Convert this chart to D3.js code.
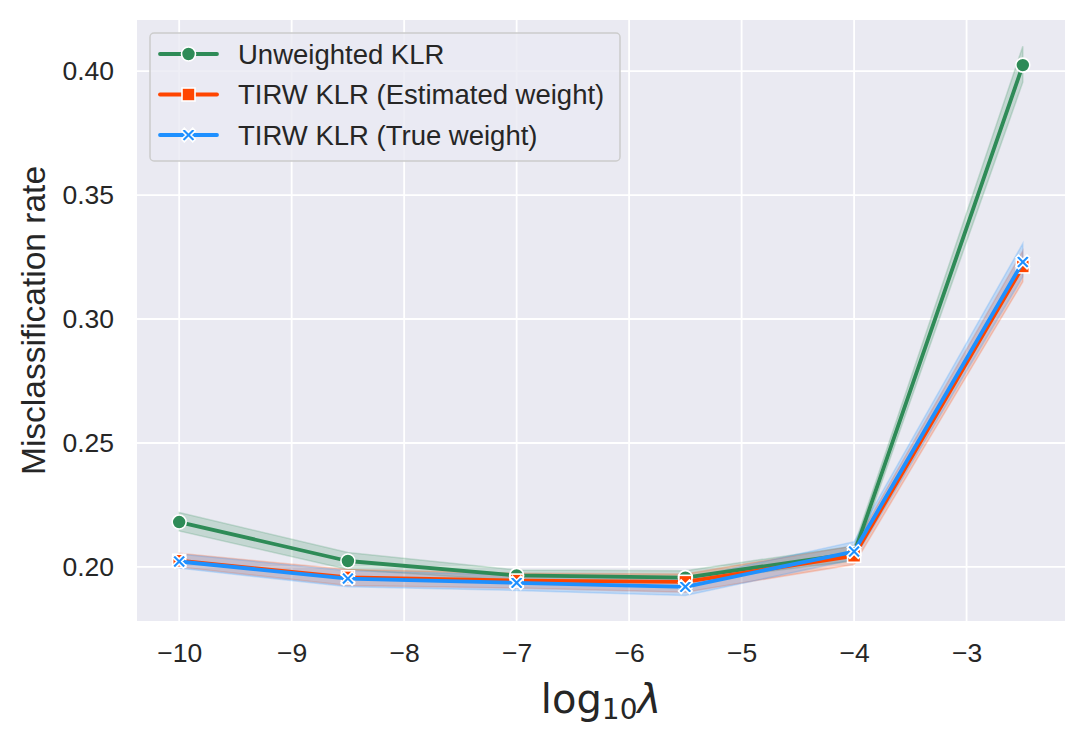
<!DOCTYPE html>
<html><head><meta charset="utf-8">
<script src="https://cdn.jsdelivr.net/npm/d3@7"></script>
<style>body{margin:0;background:#fff;} svg{display:block;}</style>
</head><body>
<svg id="c" width="1085" height="744"></svg>
<script>
const xs = [-10, -8.5, -7, -5.5, -4, -2.5];
const xTicks = [-10, -9, -8, -7, -6, -5, -4, -3];
const yTicks = [0.20, 0.25, 0.30, 0.35, 0.40];
const seriesNames = ["Unweighted KLR", "TIRW KLR (Estimated weight)", "TIRW KLR (True weight)"];
const colors = ["#2E8B57", "#FF4500", "#1E90FF"];
const unweighted = [0.2181, 0.2024, 0.1966, 0.1957, 0.2055, 0.4024];
const estimated = [0.2025, 0.1958, 0.1945, 0.1940, 0.2045, 0.3212];
const trueW = [0.2022, 0.1953, 0.1936, 0.1920, 0.2062, 0.3230];
const unweightedLo = [0.2145, 0.1990, 0.1945, 0.1940, 0.2025, 0.3955];
const unweightedHi = [0.2220, 0.2058, 0.1988, 0.1985, 0.2085, 0.4100];
const estimatedLo = [0.2000, 0.1925, 0.1915, 0.1898, 0.2010, 0.3150];
const estimatedHi = [0.2055, 0.1990, 0.1975, 0.1972, 0.2085, 0.3275];
const trueLo = [0.1995, 0.1920, 0.1905, 0.1885, 0.2030, 0.3170];
const trueHi = [0.2052, 0.1985, 0.1968, 0.1952, 0.2102, 0.3305];

const vals = [unweighted, estimated, trueW];
const los = [unweightedLo, estimatedLo, trueLo];
const his = [unweightedHi, estimatedHi, trueHi];

const L = 137, R = 1065, T = 20, B = 621;
const FONT = "Liberation Sans, Arial, sans-serif";
const svg = d3.select("#c");
const x = d3.scaleLinear().domain([-10.375, -2.125]).range([L, R]);
const y = d3.scaleLinear().domain([0.1782, 0.4206]).range([B, T]);

svg.append("rect").attr("x", L).attr("y", T).attr("width", R - L).attr("height", B - T).attr("fill", "#EAEAF2");

const gx = svg.append("g").attr("transform", `translate(0,${B})`)
  .call(d3.axisBottom(x).tickValues(xTicks).tickFormat(d => String(d).replace("-", "\u2212")).tickSize(0).tickPadding(32));
const gy = svg.append("g").attr("transform", `translate(${L},0)`)
  .call(d3.axisLeft(y).tickValues(yTicks).tickFormat(d3.format(".2f")).tickSize(0).tickPadding(23));
[gx, gy].forEach(g => {
  g.select(".domain").remove();
  g.selectAll("text").attr("font-family", FONT).attr("font-size", 26.5).attr("fill", "#262626");
});
gx.selectAll("text").attr("dy", "0.35em");

const grid = svg.append("g");
grid.selectAll(".gx").data(xTicks).join("line").attr("x1", d => x(d)).attr("x2", d => x(d)).attr("y1", T).attr("y2", B).attr("stroke", "#fff").attr("stroke-width", 1.8);
grid.selectAll(".gy").data(yTicks).join("line").attr("y1", d => y(d)).attr("y2", d => y(d)).attr("x1", L).attr("x2", R).attr("stroke", "#fff").attr("stroke-width", 1.8);

// bands
const area = d3.area().x((d, i) => x(xs[i])).y0(d => y(d[0])).y1(d => y(d[1]));
vals.forEach((v, s) => {
  const pts = xs.map((_, i) => [los[s][i], his[s][i]]);
  svg.append("path").attr("d", area(pts)).attr("fill", colors[s]).attr("fill-opacity", 0.2).attr("stroke", colors[s]).attr("stroke-opacity", 0.2).attr("stroke-width", 1.5);
});

const line = d3.line().x((d, i) => x(xs[i])).y(d => y(d));
function marker(g, s, cx, cy) {
  if (s === 0) {
    g.append("circle").attr("cx", cx).attr("cy", cy).attr("r", 7).attr("fill", colors[0]).attr("stroke", "#fff").attr("stroke-width", 1.6);
  } else if (s === 1) {
    g.append("rect").attr("x", cx - 6.5).attr("y", cy - 6.5).attr("width", 13).attr("height", 13).attr("fill", colors[1]).attr("stroke", "#fff").attr("stroke-width", 1.6);
  } else {
    const a = 6.8, w = 2.6;
    const p = `M${-a},${-a + w} L${-a + w},${-a} L0,${-w} L${a - w},${-a} L${a},${-a + w} L${w},0 L${a},${a - w} L${a - w},${a} L0,${w} L${-a + w},${a} L${-a},${a - w} L${-w},0 Z`;
    g.append("path").attr("d", p).attr("transform", `translate(${cx},${cy})`).attr("fill", colors[2]).attr("stroke", "#fff").attr("stroke-width", 1.6).attr("stroke-linejoin", "miter");
  }
}
vals.forEach((v, s) => {
  const g = svg.append("g");
  g.append("path").attr("d", line(v)).attr("fill", "none").attr("stroke", colors[s]).attr("stroke-width", 3.8).attr("stroke-linejoin", "round").attr("stroke-linecap", "round");
  v.forEach((d, i) => marker(g, s, x(xs[i]), y(d)));
});

// axis labels
svg.append("text").attr("transform", `translate(45,${(T + B) / 2}) rotate(-90)`).attr("text-anchor", "middle")
  .attr("font-family", FONT).attr("font-size", 33.5).attr("fill", "#262626").text("Misclassification rate");
const xl = svg.append("text").attr("x", (L + R) / 2).attr("y", 713).attr("text-anchor", "middle")
  .attr("font-family", "DejaVu Sans, sans-serif").attr("font-size", 40).attr("fill", "#262626");
xl.append("tspan").text("log");
xl.append("tspan").attr("font-size", 28).attr("dy", 6).text("10");
xl.append("tspan").attr("dy", -6).attr("font-style", "italic").text("λ");

// legend
const lg = svg.append("g");
lg.append("rect").attr("x", 150).attr("y", 33).attr("width", 470).attr("height", 128).attr("rx", 4)
  .attr("fill", "#EAEAF2").attr("fill-opacity", 0.8).attr("stroke", "#CCCCCC").attr("stroke-width", 1.5);
seriesNames.forEach((n, s) => {
  const cy = 54 + s * 40.5;
  lg.append("line").attr("x1", 160).attr("x2", 217).attr("y1", cy).attr("y2", cy).attr("stroke", colors[s]).attr("stroke-width", 3.8).attr("stroke-linecap", "round");
  marker(lg, s, 188.5, cy);
  lg.append("text").attr("x", 238).attr("y", cy).attr("dy", "0.35em").attr("font-family", FONT)
    .attr("font-size", 27.5).attr("fill", "#262626").text(n);
});
</script>
</body></html>
